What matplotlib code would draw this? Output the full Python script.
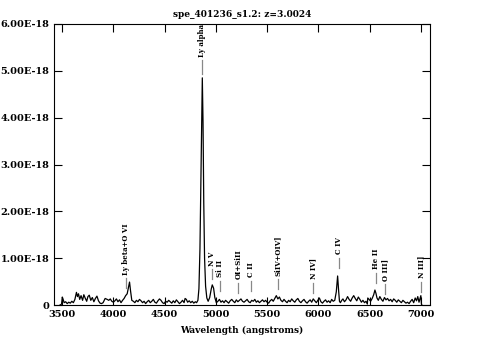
import matplotlib
matplotlib.use("Agg")
import matplotlib.pyplot as plt

# spectrum (flux in units of 1e-18)
wave = [3480, 3495, 3502, 3510, 3520, 3535, 3550, 3565, 3580, 3595, 3610, 3625, 3640,
        3650, 3660, 3672, 3685, 3700, 3712, 3725, 3740, 3752, 3765, 3780, 3795, 3810,
        3825, 3840, 3855, 3870, 3885, 3900, 3920, 3940, 3955, 3970, 3985, 4000, 4015,
        4030, 4045, 4060, 4075, 4090, 4105, 4120, 4135, 4148, 4158, 4168, 4180, 4195,
        4210, 4225, 4240, 4255, 4270, 4285, 4300, 4315, 4330, 4345, 4360, 4375, 4390,
        4405, 4420, 4435, 4450, 4465, 4480, 4495, 4510, 4525, 4540, 4555, 4570, 4585,
        4600, 4615, 4630, 4645, 4660, 4675, 4690, 4700, 4712, 4725, 4740, 4755, 4770,
        4785, 4800, 4812, 4825, 4835, 4845, 4855, 4862, 4868, 4875, 4882, 4890, 4900,
        4912, 4925, 4940, 4955, 4965, 4978, 4990, 5005, 5020, 5035, 5050, 5065, 5080,
        5095, 5110, 5125, 5140, 5155, 5170, 5185, 5200, 5215, 5230, 5245, 5260, 5275,
        5290, 5305, 5320, 5335, 5350, 5365, 5380, 5395, 5410, 5425, 5440, 5455, 5470,
        5485, 5500, 5515, 5530, 5545, 5560, 5575, 5590, 5605, 5620, 5635, 5650, 5665,
        5680, 5695, 5710, 5725, 5740, 5755, 5770, 5785, 5800, 5815, 5830, 5845, 5860,
        5875, 5890, 5905, 5920, 5935, 5950, 5965, 5980, 5995, 6010, 6025, 6040, 6055,
        6070, 6085, 6100, 6115, 6130, 6145, 6160, 6175, 6188, 6198, 6206, 6215, 6228,
        6240, 6255, 6270, 6285, 6300, 6315, 6330, 6345, 6360, 6375, 6390, 6405, 6420,
        6435, 6450, 6465, 6478, 6482, 6495, 6510, 6525, 6540, 6552, 6562, 6572, 6585,
        6600, 6615, 6630, 6645, 6660, 6675, 6690, 6705, 6720, 6735, 6750, 6765, 6780,
        6795, 6810, 6825, 6840, 6855, 6870, 6885, 6900, 6915, 6930, 6945, 6958, 6970,
        6982, 6992, 7000, 7006, 7010]
flux = [0.00, 0.02, 0.17, 0.12, 0.05, 0.07, 0.03, 0.06, 0.04, 0.08, 0.05, 0.12, 0.27,
        0.18, 0.24, 0.12, 0.20, 0.10, 0.22, 0.15, 0.08, 0.18, 0.21, 0.10, 0.16, 0.07,
        0.14, 0.19, 0.09, 0.04, 0.03, 0.05, 0.14, 0.12, 0.10, 0.13, 0.08, 0.06, 0.09,
        0.13, 0.07, 0.11, 0.05, 0.10, 0.14, 0.20, 0.24, 0.38, 0.49, 0.30, 0.10, 0.08,
        0.05, 0.10, 0.07, 0.12, 0.09, 0.05, 0.08, 0.03, 0.07, 0.10, 0.05, 0.08, 0.12,
        0.06, 0.04, 0.09, 0.13, 0.10, 0.05, 0.03, 0.08, 0.06, 0.10, 0.07, 0.04, 0.09,
        0.05, 0.11, 0.07, 0.03, 0.06, 0.10, 0.05, 0.14, 0.12, 0.06, 0.09, 0.05, 0.08,
        0.04, 0.07, 0.05, 0.10, 0.35, 1.20, 2.80, 3.90, 4.85, 3.90, 2.20, 1.00, 0.40,
        0.15, 0.08, 0.16, 0.34, 0.43, 0.36, 0.16, 0.05, 0.08, 0.12, 0.06, 0.09, 0.05,
        0.10, 0.07, 0.04, 0.09, 0.12, 0.08, 0.05, 0.11, 0.07, 0.10, 0.13, 0.08, 0.06,
        0.09, 0.12, 0.07, 0.05, 0.10, 0.08, 0.12, 0.06, 0.09, 0.05, 0.08, 0.11, 0.07,
        0.10, 0.06, 0.04, 0.09, 0.12, 0.08, 0.14, 0.20, 0.13, 0.17, 0.10, 0.07, 0.12,
        0.08, 0.05, 0.10, 0.07, 0.13, 0.09, 0.06, 0.11, 0.14, 0.08, 0.05, 0.09, 0.12,
        0.07, 0.04, 0.08, 0.11, 0.06, 0.13, 0.09, 0.05, 0.10, 0.15, 0.07, 0.04, 0.08,
        0.11, 0.06, 0.09, 0.05, 0.12, 0.08, 0.10, 0.28, 0.62, 0.30, 0.08, 0.05, 0.10,
        0.13, 0.07, 0.11, 0.18, 0.12, 0.08, 0.15, 0.20, 0.14, 0.09, 0.17, 0.12, 0.06,
        0.10, 0.05, 0.08, 0.02, 0.15, 0.12, 0.08, 0.14, 0.22, 0.32, 0.25, 0.15, 0.10,
        0.18, 0.12, 0.08, 0.16, 0.11, 0.14, 0.09, 0.12, 0.07, 0.13, 0.10, 0.06, 0.11,
        0.08, 0.05, 0.10, 0.07, 0.04, 0.06, 0.03, 0.08, 0.12, 0.05, 0.15, 0.09, 0.18,
        0.06, 0.14, 0.20, 0.02, 0.00]

# line identifications: name, wavelength, bottom of the marker (1e-18)
line_names = ["Ly alpha", "Ly beta+O VI", "N V", "Si II", "OI+SiII", "C II",
              "SiIV+OIV]", "N IV]", "C IV", "He II", "O III]", "N III]"]
line_waves = [4868, 4120, 4960, 5045, 5219, 5343, 5603, 5948, 6200, 6563, 6655, 7004]
line_base = [4.93, 0.36, 0.55, 0.30, 0.26, 0.30, 0.34, 0.26, 0.79, 0.47, 0.23, 0.28]

plt.rcParams["font.family"] = "DejaVu Serif"
plt.rcParams["font.weight"] = "bold"

fig = plt.figure(figsize=(4.83, 3.58), dpi=100)
ax = fig.add_axes([0.112, 0.148, 0.778, 0.785])

ax.plot(wave, [f * 1e-18 for f in flux], color="black", lw=0.9)

for name, w, b in zip(line_names, line_waves, line_base):
    length = 0.3 if name == "Ly alpha" else 0.22
    ax.plot([w, w], [b * 1e-18, (b + length) * 1e-18], color="#888888", lw=0.9)
    ax.text(w, (b + length + 0.07) * 1e-18, name, rotation=90, ha="center",
            va="bottom", fontsize=5, fontweight="bold")

ax.set_xlim(3422, 7088)
ax.set_ylim(0, 6e-18)
ax.set_xticks(range(3500, 7001, 500))
ax.set_yticks([i * 1e-18 for i in range(7)])
ax.set_yticklabels(["0"] + ["%.2fE-18" % i for i in range(1, 7)])
ax.tick_params(direction="in", top=True, right=True, labelsize=7, length=6, width=0.8)
for lab in ax.get_xticklabels() + ax.get_yticklabels():
    lab.set_fontweight("bold")

ax.set_xlabel("Wavelength (angstroms)", fontsize=6.5, fontweight="bold", labelpad=5)
ax.set_title("spe_401236_s1.2: z=3.0024", fontsize=6.5, fontweight="bold", pad=5)

fig.savefig("out.png", dpi=100)
